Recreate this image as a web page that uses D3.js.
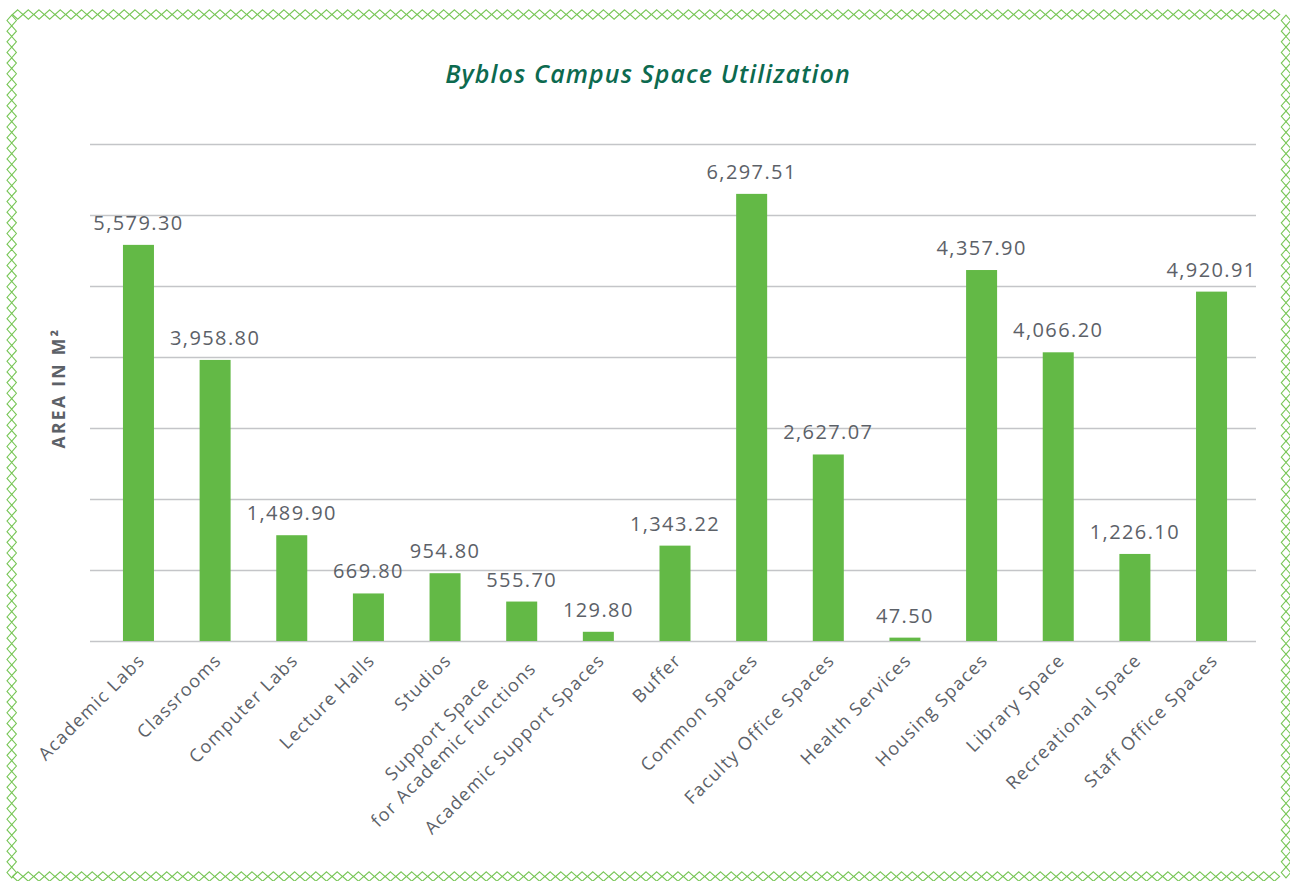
<!DOCTYPE html>
<html><head><meta charset="utf-8">
<script src="https://cdn.jsdelivr.net/npm/d3@7"></script>
<style>body{margin:0;background:#fff} svg{display:block}</style>
</head><body>
<svg id="c" width="1290" height="881"></svg>
<script>
// ---- data ----
const categories = ["Academic Labs","Classrooms","Computer Labs","Lecture Halls","Studios",
  "Support Space\nfor Academic Functions","Academic Support Spaces","Buffer","Common Spaces",
  "Faculty Office Spaces","Health Services","Housing Spaces","Library Space",
  "Recreational Space","Staff Office Spaces"];
// bar heights as drawn in the picture
const barValues = [5579.30,3958.80,1489.90,669.80,954.80,555.70,129.80,1343.22,6297.51,
  2627.07,47.50,5225,4066.20,1226.10,4920.91];
// data labels as printed in the picture
const valueLabels = ["5,579.30","3,958.80","1,489.90","669.80","954.80","555.70","129.80",
  "1,343.22","6,297.51","2,627.07","47.50","4,357.90","4,066.20","1,226.10","4,920.91"];
const yTicks = [0,1000,2000,3000,4000,5000,6000,7000];
const chartTitle = "Byblos Campus Space Utilization";
const yTitle = "AREA IN M²";

(function(){
const W = 1290, H = 881;
const svg = d3.select("#c");
svg.append("rect").attr("width", W).attr("height", H).attr("fill", "#fff");

// ---- decorative diamond border ----
const bd = svg.append("g").attr("fill","none").attr("stroke","#78c657").attr("stroke-width",1.1);
const hw = 5.3, hh = 4.7, sp = 10.65;
function diamond(cx, cy){ return `M${cx},${cy-hh}L${cx+hw},${cy}L${cx},${cy+hh}L${cx-hw},${cy}Z`; }
function diamondV(cx, cy){ return `M${cx},${cy-hw}L${cx+hh},${cy}L${cx},${cy+hw}L${cx-hh},${cy}Z`; }
const bL = 11.7, bR = 1286, bT = 14.5, bB = 876.5;
d3.range(bL + 6, bR - 2, sp).forEach(cx => { bd.append("path").attr("d", diamond(cx, bT)); bd.append("path").attr("d", diamond(cx, bB)); });
d3.range(bT + 6, bB - 2, sp).forEach(cy => { bd.append("path").attr("d", diamondV(bL, cy)); bd.append("path").attr("d", diamondV(bR, cy)); });

// ---- scales ----
const y = d3.scaleLinear().domain([0, 7000]).range([641, 144]);
const x = d3.scaleBand().domain(categories).range([90, 1260]).paddingInner(0.5955).paddingOuter(0.43);

// gridlines
const grid = svg.append("g").attr("transform", "translate(90,0)")
  .call(d3.axisLeft(y).tickValues(yTicks).tickSize(-(1256 - 90)).tickFormat(""));
grid.select(".domain").remove();
grid.selectAll(".tick line").attr("stroke", "#c4c5c8").attr("stroke-width", 1.6);

// bars
svg.append("g").selectAll("rect").data(categories).join("rect")
  .attr("x", d => x(d)).attr("width", x.bandwidth())
  .attr("y", (d,i) => y(barValues[i])).attr("height", (d,i) => y(0) - y(barValues[i]))
  .attr("fill", "#63b946");

// value labels
svg.append("g").selectAll("text").data(categories).join("text")
  .attr("x", d => x(d) + x.bandwidth()/2)
  .attr("y", (d,i) => y(barValues[i]) - 15)
  .attr("text-anchor", "middle")
  .attr("font-family", "'Open Sans', sans-serif").attr("font-size", 20)
  .attr("letter-spacing", 1.4)
  .attr("fill", "#5c6168")
  .text((d,i) => valueLabels[i]);

// category labels
const xl = svg.append("g");
categories.forEach(c => {
  const lines = c.split("\n");
  const g = xl.append("g")
    .attr("transform", `translate(${x(c) + x.bandwidth()/2 + 3},657) rotate(-45)`);
  const t = g.append("text").attr("text-anchor", "end")
    .attr("font-family", "'Open Sans', sans-serif").attr("font-size", 18)
    .attr("letter-spacing", 1.3).attr("fill", "#5c6168");
  const spans = lines.map((l, i) => t.append("tspan").text(l)
    .attr("x", 0).attr("y", (i - (lines.length - 1)/2) * 23).attr("dy", "0.35em"));
  const widths = spans.map(s => s.node().getComputedTextLength());
  const maxW = d3.max(widths);
  spans.forEach((s, i) => s.attr("x", -(maxW - widths[i]) / 2));
});

// titles
svg.append("text").attr("x", 648).attr("y", 83).attr("text-anchor", "middle")
  .attr("font-family", "'Open Sans', sans-serif").attr("font-size", 25)
  .attr("letter-spacing", 1.1)
  .attr("font-style", "italic").attr("font-weight", 600).attr("fill", "#0d6a4f")
  .text(chartTitle);
svg.append("text").attr("transform", "translate(59,388) rotate(-90)")
  .attr("text-anchor", "middle").attr("dy", "0.35em")
  .attr("font-family", "'Open Sans', sans-serif").attr("font-size", 17.5)
  .attr("font-weight", 700).attr("letter-spacing", 2.3).attr("fill", "#5c6168")
  .text(yTitle);
})();
</script>
</body></html>
